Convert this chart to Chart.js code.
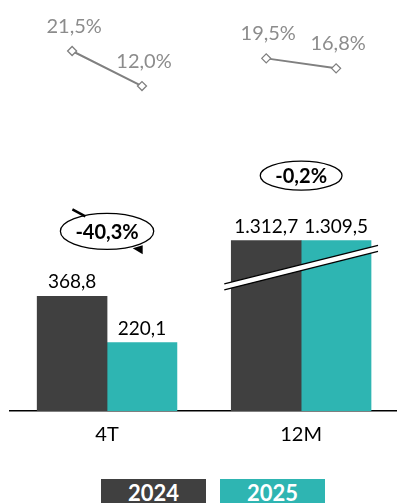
<!DOCTYPE html>
<html>
<head>
<meta charset="utf-8">
<script src="https://cdn.jsdelivr.net/npm/chart.js@4.4.1/dist/chart.umd.min.js"></script>
<style>
  html, body { margin: 0; padding: 0; background: #fff; overflow: hidden; }
  #wrap { position: relative; width: 397px; height: 503px; overflow: hidden; }
  #chart-box { position: absolute; left: 0; top: 0; width: 404px; height: 460px; }
  .key {
    position: absolute; top: 479px; width: 105px; height: 30px;
    color: #fff; font: bold 22px Lato, sans-serif; text-align: center; line-height: 28px;
  }
</style>
</head>
<body>
<div id="wrap">
  <div id="chart-box"><canvas id="sales"></canvas></div>
  <div class="key" style="left:101px;background:#404040">2024</div>
  <div class="key" style="left:220px;background:#2eb5b2">2025</div>
</div>
<script>
const categories = ["4T", "12M"];
const sales2024 = [368.8, 1312.7];
const sales2025 = [220.1, 1309.5];
const margin2024 = [21.5, 19.5];
const margin2025 = [12.0, 16.8];
// bars taller than this are cut with a break mark
const axisBreak = 548;

const dark = "#404040";
const teal = "#2eb5b2";
const half = 0.18; // each bar sits this far from its category centre

function fmt(v) {
  const [i, d] = v.toFixed(1).split(".");
  return i.replace(/\B(?=(\d{3})+(?!\d))/g, ".") + "," + d;
}
function pct(v) {
  return v.toFixed(1).replace(".", ",") + "%";
}

const bars2024 = categories.map((c, i) => ({ x: i - half, y: Math.min(sales2024[i], axisBreak) }));
const bars2025 = categories.map((c, i) => ({ x: i + half, y: Math.min(sales2025[i], axisBreak) }));
const linePoints = categories.flatMap((c, i) => [
  { x: i - half, y: margin2024[i] },
  { x: i + half, y: margin2025[i] },
  { x: i + 0.5, y: null },
]);

const labelsPlugin = {
  id: "labels",
  afterDatasetsDraw(chart) {
    const ctx = chart.ctx;
    const m0 = chart.getDatasetMeta(0);
    const m1 = chart.getDatasetMeta(1);
    const ml = chart.getDatasetMeta(2);
    ctx.save();

    // axis break band
    categories.forEach((c, i) => {
      if (Math.max(sales2024[i], sales2025[i]) <= axisBreak) return;
      const a = m0.data[i], b = m1.data[i];
      const x0 = a.x - a.width / 2 - 7, x1 = b.x + b.width / 2 + 7;
      const mid = (x0 + x1) / 2;
      const yMid = Math.min(a.y, b.y) + 27;
      const slope = -0.25;
      const yAt = (x) => yMid + (x - mid) * slope;
      const gap = 6;
      ctx.beginPath();
      ctx.moveTo(x0, yAt(x0) - gap / 2);
      ctx.lineTo(x1, yAt(x1) - gap / 2);
      ctx.lineTo(x1, yAt(x1) + gap / 2);
      ctx.lineTo(x0, yAt(x0) + gap / 2);
      ctx.closePath();
      ctx.fillStyle = "#fff";
      ctx.fill();
      ctx.strokeStyle = "#000";
      ctx.lineWidth = 1.3;
      ctx.beginPath();
      ctx.moveTo(x0, yAt(x0) - gap / 2);
      ctx.lineTo(x1, yAt(x1) - gap / 2);
      ctx.moveTo(x0, yAt(x0) + gap / 2);
      ctx.lineTo(x1, yAt(x1) + gap / 2);
      ctx.stroke();
    });

    // bar values
    ctx.font = "19px Lato, sans-serif";
    ctx.fillStyle = "#000";
    ctx.textAlign = "center";
    ctx.textBaseline = "alphabetic";
    [[m0, sales2024], [m1, sales2025]].forEach(([meta, vals]) => {
      meta.data.forEach((bar, i) => {
        ctx.fillText(fmt(vals[i]), bar.x, bar.y - 8);
      });
    });

    // margin labels
    ctx.font = "20px Lato, sans-serif";
    ctx.fillStyle = "#8c8c8c";
    const margins = categories.flatMap((c, i) => [margin2024[i], margin2025[i], null]);
    ml.data.forEach((p, k) => {
      if (margins[k] == null) return;
      ctx.fillText(pct(margins[k]), p.x + 2, p.y - 18);
    });

    // change ellipses
    ctx.font = "bold 20px Lato, sans-serif";
    ctx.textBaseline = "middle";
    categories.forEach((c, i) => {
      const a = m0.data[i], b = m1.data[i];
      const change = (sales2025[i] - sales2024[i]) / sales2024[i] * 100;
      const txt = change.toFixed(1).replace(".", ",") + "%";
      const cx = (a.x + b.x) / 2;
      const cy = Math.min(a.y, b.y) - 65;
      const rx = ctx.measureText(txt).width / 2 + 15;
      const ry = i === 0 ? 18 : 14.5;
      ctx.beginPath();
      ctx.ellipse(cx, cy, rx, ry, 0, 0, Math.PI * 2);
      ctx.fillStyle = "#fff";
      ctx.fill();
      ctx.strokeStyle = "#000";
      ctx.lineWidth = 1.3;
      ctx.stroke();
      ctx.fillStyle = "#000";
      ctx.fillText(txt, cx, cy + 1);
      if (Math.abs(change) > 10) {
        // little rotation arrow round the big change
        ctx.lineWidth = 2.5;
        ctx.beginPath();
        ctx.moveTo(cx - rx + 12, cy - ry - 4);
        ctx.lineTo(cx - rx + 25, cy - ry + 3);
        ctx.stroke();
        ctx.beginPath();
        ctx.moveTo(cx + rx - 21, cy + ry - 1);
        ctx.lineTo(cx + rx - 11, cy + ry + 5);
        ctx.lineTo(cx + rx - 11, cy + ry - 4);
        ctx.closePath();
        ctx.fill();
      }
    });
    ctx.restore();
  },
};

new Chart(document.getElementById("sales"), {
  type: "bar",
  data: {
    datasets: [
      {
        label: "2024",
        data: bars2024,
        backgroundColor: dark,
        grouped: false,
        barPercentage: 1,
        categoryPercentage: 1,
      },
      {
        label: "2025",
        data: bars2025,
        backgroundColor: teal,
        grouped: false,
        barPercentage: 1,
        categoryPercentage: 1,
      },
      {
        type: "line",
        label: "margin",
        data: linePoints,
        yAxisID: "y2",
        spanGaps: false,
        borderColor: "#808080",
        borderWidth: 2,
        pointStyle: "rectRot",
        pointRadius: 4.5,
        pointBackgroundColor: "#fff",
        pointBorderColor: "#808080",
        pointBorderWidth: 1.3,
      },
    ],
  },
  options: {
    responsive: true,
    maintainAspectRatio: false,
    animation: false,
    layout: { padding: { left: 10, right: 0, top: 10, bottom: 1 } },
    plugins: { legend: { display: false }, tooltip: { enabled: false } },
    scales: {
      x: {
        type: "linear",
        offset: false,
        min: -0.5,
        max: 1.5,
        grid: { display: false, drawTicks: false },
        border: { display: true, color: "#000", width: 1.5 },
        afterBuildTicks: (axis) => {
          axis.ticks = categories.map((c, i) => ({ value: i }));
        },
        ticks: {
          color: "#000",
          font: { family: "Lato", size: 20 },
          padding: 12,
          callback: (v) => categories[v],
        },
      },
      y: { display: false, min: 0, max: 1290 },
      y2: { display: false, min: -76, max: 32.6 },
    },
  },
  plugins: [labelsPlugin],
});
</script>
</body>
</html>
